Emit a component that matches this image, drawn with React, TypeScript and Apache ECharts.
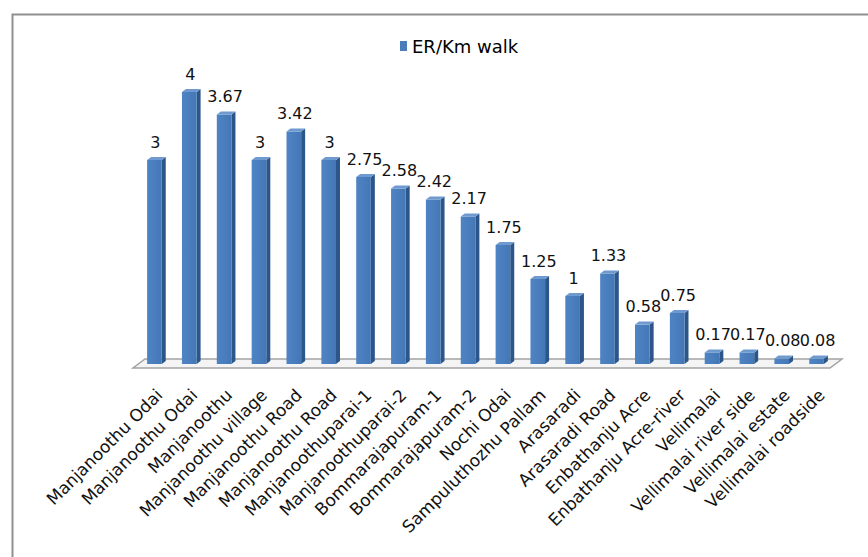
import React, { useEffect, useRef } from "react";
import * as echarts from "echarts";

const categories = [
  "Manjanoothu Odai",
  "Manjanoothu Odai",
  "Manjanoothu",
  "Manjanoothu village",
  "Manjanoothu Road",
  "Manjanoothu Road",
  "Manjanoothuparai-1",
  "Manjanoothuparai-2",
  "Bommarajapuram-1",
  "Bommarajapuram-2",
  "Nochi Odai",
  "Sampuluthozhu Pallam",
  "Arasaradi",
  "Arasaradi Road",
  "Enbathanju Acre",
  "Enbathanju Acre-river",
  "Vellimalai",
  "Vellimalai river side",
  "Vellimalai estate",
  "Vellimalai roadside",
];

const erPerKmWalk = [3, 4, 3.67, 3, 3.42, 3, 2.75, 2.58, 2.42, 2.17, 1.75, 1.25, 1, 1.33, 0.58, 0.75, 0.17, 0.17, 0.08, 0.08];

const seriesName = "ER/Km walk";

const FONT = "'DejaVu Sans', 'Liberation Sans', sans-serif";
const SIDE = "#2C5689";
const TOP = "#6F9AD0";

export default function App() {
  const ref = useRef<HTMLDivElement>(null);

  useEffect(() => {
    if (!ref.current) return;
    const chart = echarts.init(ref.current, null, { renderer: "svg" });
    const depthX = 4;
    const depthY = 3;
    const shiftX = -5; // 3D projection offset of bars relative to front-edge labels

    const option: any = {
      animation: false,
      backgroundColor: "#ffffff",
      graphic: [
        {
          type: "rect",
          left: 10,
          top: 12,
          shape: { width: 900, height: 600 },
          style: { fill: "none", stroke: "#8f8f8f", lineWidth: 2 },
          silent: true,
          z: -10,
        },
      ],
      legend: {
        left: 395,
        top: 32,
        icon: "rect",
        itemWidth: 7,
        itemHeight: 10,
        itemGap: 4,
        textStyle: { fontFamily: FONT, fontSize: 18, color: "#000" },
        data: [seriesName],
      },
      grid: { left: 142, right: 29, top: 92, bottom: 193, containLabel: false },
      xAxis: {
        type: "category",
        data: categories,
        boundaryGap: true,
        axisLine: { show: false },
        axisTick: { show: false },
        axisLabel: {
          interval: 0,
          rotate: 45,
          margin: 28,
          fontFamily: FONT,
          fontSize: 17,
          color: "#111",
        },
      },
      yAxis: {
        type: "value",
        min: 0,
        max: 4,
        show: false,
        splitLine: { show: false },
      },
      series: [
        {
          type: "custom",
          name: "floor",
          silent: true,
          z: 1,
          data: [[0, 0]],
          renderItem: (params: any, api: any) => {
            const cs = params.coordSys;
            const y0 = api.coord([0, 0])[1];
            const x1 = cs.x - 4 + shiftX;
            const x2 = cs.x + cs.width - 4 + shiftX;
            return {
              type: "polygon",
              shape: {
                points: [
                  [x1, y0 + 4],
                  [x2, y0 + 4],
                  [x2 + 12, y0 - 5],
                  [x1 + 12, y0 - 5],
                ],
              },
              style: { fill: "#f4f4f4", stroke: "#a3a3a3", lineWidth: 1.5 },
            };
          },
        },
        {
          type: "custom",
          name: seriesName,
          z: 2,
          itemStyle: { color: "#4A7EBB" },
          data: erPerKmWalk.map((v, i) => [i, v]),
          encode: { x: 0, y: 1 },
          renderItem: (params: any, api: any) => {
            const idx = api.value(0);
            const val = api.value(1);
            const p = api.coord([idx, val]);
            const cx = p[0] + shiftX;
            const yTop = p[1];
            const y0 = api.coord([idx, 0])[1];
            const band = api.size([1, 0])[0];
            const w = band * 0.42;
            const xl = cx - w / 2;
            const xr = cx + w / 2;
            return {
              type: "group",
              children: [
                {
                  type: "polygon",
                  shape: {
                    points: [
                      [xr, yTop],
                      [xr + depthX, yTop - depthY],
                      [xr + depthX, y0 - depthY],
                      [xr, y0],
                    ],
                  },
                  style: { fill: SIDE },
                },
                {
                  type: "rect",
                  shape: { x: xl, y: yTop, width: w, height: y0 - yTop },
                  style: {
                    fill: new echarts.graphic.LinearGradient(0, 0, 1, 0, [
                      { offset: 0, color: "#4F84C4" },
                      { offset: 1, color: "#4477B6" },
                    ]),
                  },
                },
                {
                  type: "polygon",
                  shape: {
                    points: [
                      [xl, yTop],
                      [xl + depthX, yTop - depthY],
                      [xr + depthX, yTop - depthY],
                      [xr, yTop],
                    ],
                  },
                  style: { fill: TOP },
                },
                {
                  type: "text",
                  x: cx + 1,
                  y: yTop - 10,
                  style: {
                    text: String(val),
                    fontFamily: FONT,
                    fontSize: 16,
                    fill: "#111",
                    align: "center",
                    verticalAlign: "bottom",
                  },
                },
              ],
            };
          },
        },
      ],
    };

    chart.setOption(option);
    return () => chart.dispose();
  }, []);

  return (
    <div
      ref={ref}
      style={{ position: "fixed", left: 0, top: 0, width: 868, height: 557, background: "#fff" }}
    />
  );
}
